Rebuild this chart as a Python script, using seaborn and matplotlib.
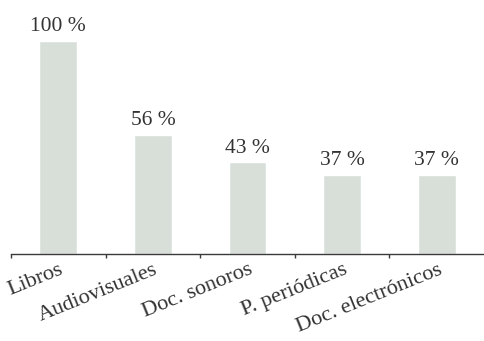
import matplotlib
matplotlib.use("Agg")
import matplotlib.pyplot as plt
import matplotlib.transforms as mtransforms
import seaborn as sns
import pandas as pd

categories = ["Libros", "Audiovisuales", "Doc. sonoros", "P. periódicas", "Doc. electrónicos"]
values = [100, 56, 43, 37, 37]
value_labels = ["100 %", "56 %", "43 %", "37 %", "37 %"]

sns.set_theme(style="white")
plt.rcParams["font.family"] = ["Liberation Serif", "DejaVu Serif"]

df = pd.DataFrame({"cat": categories, "val": values})

W, H = 484, 341
fig = plt.figure(figsize=(W / 100, H / 100), dpi=100)
ax = fig.add_axes([11 / W, (H - 254) / H, 473 / W, 213 / H])

sns.barplot(data=df, x="cat", y="val", color="#d8dfd9", saturation=1,
            width=0.4, ax=ax)

ax.set_xlim(-0.5, 4.5)
ax.set_ylim(0, 100)
ax.set_xlabel("")
ax.set_ylabel("")
ax.set_yticks([])

for s in ["top", "right", "left"]:
    ax.spines[s].set_visible(False)
ax.spines["bottom"].set_color("#3a3a3a")
ax.spines["bottom"].set_linewidth(1.0)

# category labels, slanted and anchored at the baseline of their right end
ax.set_xticks(range(len(categories)))
ax.set_xticklabels(categories, rotation=22, ha="right", va="baseline",
                   rotation_mode="anchor", fontsize=16, color="#333333")
ax.tick_params(axis="x", which="major", length=0, pad=14)
shift = mtransforms.ScaledTranslation(6 / 100, 0, fig.dpi_scale_trans)
for lab in ax.get_xticklabels():
    lab.set_transform(lab.get_transform() + shift)

# short separators between categories
ax.set_xticks([i - 0.5 for i in range(len(categories))], minor=True)
ax.tick_params(axis="x", which="minor", length=3, width=1, color="#3a3a3a",
               direction="out", bottom=True)

for i, (v, lab) in enumerate(zip(values, value_labels)):
    ax.annotate(lab, (i, v), xytext=(0, 7), textcoords="offset points",
                ha="center", va="baseline", fontsize=15.5, color="#333333",
                annotation_clip=False)

fig.savefig("out.png", dpi=100)
